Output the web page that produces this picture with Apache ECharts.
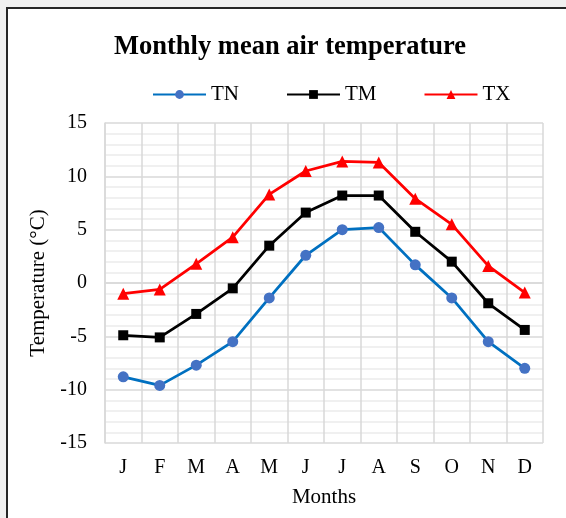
<!DOCTYPE html>
<html>
<head>
<meta charset="utf-8">
<script src="https://cdn.jsdelivr.net/npm/echarts@6/dist/echarts.min.js"></script>
<style>
html,body{margin:0;padding:0;background:#f0f0f0;}
#main{position:absolute;left:0;top:0;width:566px;height:518px;}
</style>
</head>
<body>
<div id="main"></div>
<script>
const months = ['J','F','M','A','M','J','J','A','S','O','N','D'];
const TN = [-8.8, -9.6, -7.7, -5.5, -1.4, 2.6, 5.0, 5.2, 1.7, -1.4, -5.5, -8.0];
const TM = [-4.9, -5.1, -2.9, -0.5, 3.5, 6.6, 8.2, 8.2, 4.8, 2.0, -1.9, -4.4];
const TX = [-1.0, -0.6, 1.8, 4.3, 8.3, 10.5, 11.4, 11.3, 7.9, 5.5, 1.6, -0.9];

const font = '"Liberation Serif", "Times New Roman", serif';
const chart = echarts.init(document.getElementById('main'), null, {renderer:'canvas'});
chart.setOption({
  backgroundColor: 'transparent',
  animation: false,
  graphic: [{
    type: 'rect', z: -10, silent: true,
    shape: {x: 7, y: 8, width: 600, height: 560},
    style: {fill: '#ffffff', stroke: '#262626', lineWidth: 2}
  }],
  title: {
    text: 'Monthly mean air temperature',
    left: 109, top: 29,
    textStyle: {fontFamily: font, fontWeight: 'bold', fontSize: 26.5, color: '#000'}
  },
  legend: {
    top: 79, left: 147,
    itemWidth: 53, itemHeight: 11, itemGap: 47,
    textStyle: {fontFamily: font, fontSize: 21, color: '#000'},
    data: ['TN','TM','TX']
  },
  grid: {left: 105, right: 23, top: 123, bottom: 75},
  xAxis: {
    type: 'category', data: months, boundaryGap: true,
    name: 'Months', nameLocation: 'middle', nameGap: 44,
    nameTextStyle: {fontFamily: font, fontSize: 21, color: '#000'},
    axisLine: {show: true, lineStyle: {color: '#d9d9d9', width: 1.5}},
    axisTick: {show: false},
    axisLabel: {fontFamily: font, fontSize: 20, color: '#000', margin: 15},
    splitLine: {show: true, lineStyle: {color: '#d9d9d9', width: 1.5}}
  },
  yAxis: {
    type: 'value', min: -15, max: 15, interval: 5,
    name: 'Temperature (°C)', nameLocation: 'middle', nameGap: 56,
    nameTextStyle: {fontFamily: font, fontSize: 21, color: '#000'},
    axisLine: {show: true, lineStyle: {color: '#d9d9d9', width: 1.5}},
    axisTick: {show: false},
    axisLabel: {fontFamily: font, fontSize: 20, color: '#000', margin: 18},
    splitLine: {show: true, lineStyle: {color: '#d9d9d9', width: 1.5}},
    minorTick: {show: false, splitNumber: 5},
    minorSplitLine: {show: true, lineStyle: {color: '#ececec', width: 1.5}}
  },
  series: [
    {name: 'TN', type: 'line', data: TN, symbol: 'circle', symbolSize: 11,
     lineStyle: {color: '#0070C0', width: 2.75}, itemStyle: {color: '#4472C4'}},
    {name: 'TM', type: 'line', data: TM, symbol: 'rect', symbolSize: 10,
     lineStyle: {color: '#000000', width: 2.75}, itemStyle: {color: '#000000'}},
    {name: 'TX', type: 'line', data: TX, symbol: 'triangle', symbolSize: 12,
     lineStyle: {color: '#FF0000', width: 2.75}, itemStyle: {color: '#FF0000'}}
  ]
});
</script>
</body>
</html>
